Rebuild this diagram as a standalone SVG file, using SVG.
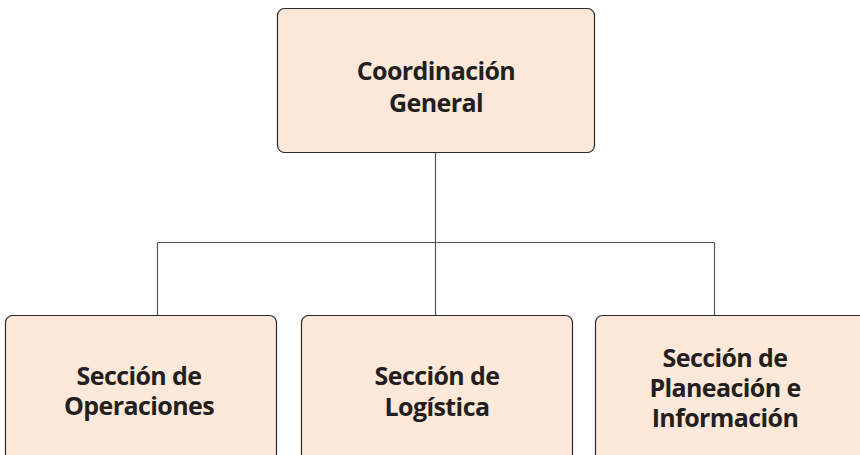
<svg xmlns="http://www.w3.org/2000/svg" width="860" height="455" viewBox="0 0 860 455">
<style>
.box{fill:#FDE8D9;stroke:#2b2b2b;stroke-width:1.2}
.lbl{font-family:"Open Sans",Lato,"Liberation Sans",sans-serif;font-weight:700;font-size:25px;letter-spacing:-0.6px;fill:#231f20;text-anchor:middle}
.conn{fill:none;stroke:#555;stroke-width:1.2}
</style>
<rect width="860" height="455" fill="#ffffff"/>
<g id="connectors">
<path class="conn" d="M435.5,152.5 V242.5 M157.5,242.5 H714.5 M157.5,242.5 V315.5 M435.5,242.5 V315.5 M714.5,242.5 V315.5"/>
</g>
<g id="coordinacion-general">
<rect class="box" x="277.5" y="8.5" width="317" height="144" rx="7"/>
<text class="lbl" x="436" y="80">Coordinación</text>
<text class="lbl" x="436" y="111.5">General</text>
</g>
<g id="seccion-operaciones">
<rect class="box" x="5.5" y="315.5" width="271" height="160" rx="7"/>
<text class="lbl" x="139" y="385">Sección de</text>
<text class="lbl" x="139" y="415">Operaciones</text>
</g>
<g id="seccion-logistica">
<rect class="box" x="301.5" y="315.5" width="271" height="160" rx="7"/>
<text class="lbl" x="437" y="385">Sección de</text>
<text class="lbl" x="437" y="416">Logística</text>
</g>
<g id="seccion-planeacion">
<rect class="box" x="595.5" y="315.5" width="275" height="160" rx="7"/>
<text class="lbl" x="725" y="366.5">Sección de</text>
<text class="lbl" x="725" y="396.5">Planeación e</text>
<text class="lbl" x="725" y="426.5">Información</text>
</g>
</svg>
